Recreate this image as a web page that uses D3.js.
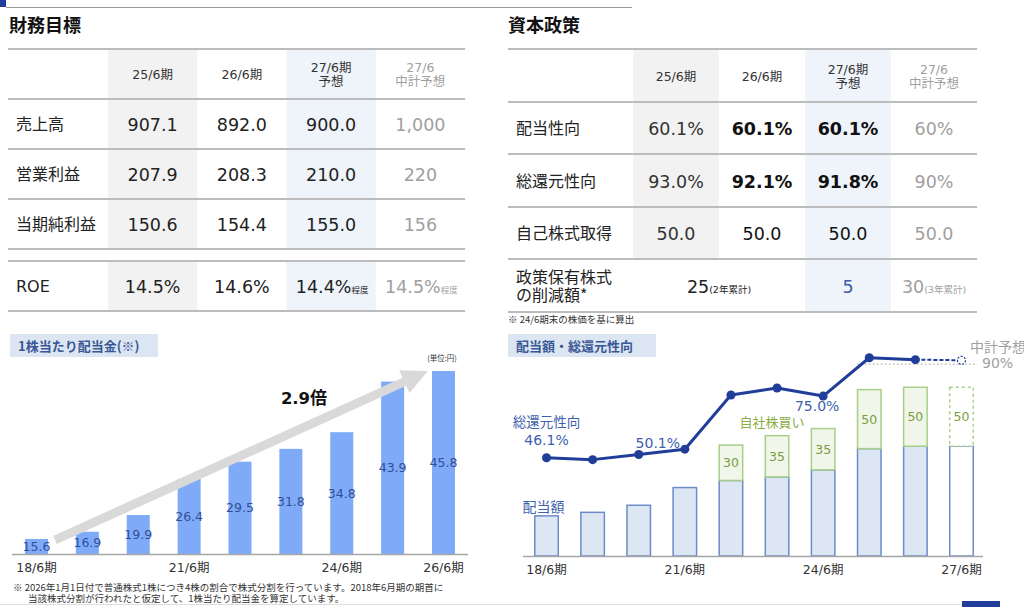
<!DOCTYPE html>
<html>
<head>
<meta charset="utf-8">
<script src="https://cdn.jsdelivr.net/npm/d3@7"></script>
<style>
  body { margin: 0; background: #fff; }
  svg { display: block; font-family: "Noto Sans CJK JP", "Noto Sans", sans-serif; }
  .num { font-family: "DejaVu Sans", "Noto Sans CJK JP", sans-serif; }
</style>
</head>
<body>
<svg id="chart" width="1024" height="607"></svg>
<script>
// ---- table data ----
const colHeads = [["25/6期"], ["26/6期"], ["27/6期", "予想"], ["27/6", "中計予想"]];

const finLabels = ["売上高", "営業利益", "当期純利益"];
const finValues = [
    ["907.1", "892.0", "900.0", "1,000"],
    ["207.9", "208.3", "210.0", "220"],
    ["150.6", "154.4", "155.0", "156"]
];
const roeValues = ["14.5%", "14.6%", "14.4%", "14.5%"];
const roeSuffix = ["", "", "程度", "程度"];

const capLabels = ["配当性向", "総還元性向", "自己株式取得"];
const capValues = [
    ["60.1%", "60.1%", "60.1%", "60%"],
    ["93.0%", "92.1%", "91.8%", "90%"],
    ["50.0", "50.0", "50.0", "50.0"]
];
const reductionLabel = ["政策保有株式", "の削減額*"];
const reductionValues = [["25", "(2年累計)"], ["5", ""], ["30", "(3年累計)"]];

// ---- dividend per share ----
const dpsPeriods = ["18/6期", "19/6期", "20/6期", "21/6期", "22/6期", "23/6期", "24/6期", "25/6期", "26/6期"];
const dpsValues = [15.6, 16.9, 19.9, 26.4, 29.5, 31.8, 34.8, 43.9, 45.8];
const dpsTicks = ["18/6期", "21/6期", "24/6期", "26/6期"];

// ---- dividends / total return ----
const retPeriods = ["18/6期", "19/6期", "20/6期", "21/6期", "22/6期", "23/6期", "24/6期", "25/6期", "26/6期", "27/6期"];
const dividendAmt = [34, 37, 43, 58, 64, 67, 73, 91, 93, 93];
const buybackAmt = [0, 0, 0, 0, 30, 35, 35, 50, 50, 50];
const totalReturn = [46.1, 45.2, 47.6, 50.1, 75.5, 78.8, 75.0, 93.0, 92.1, 91.8];
const retTicks = ["18/6期", "21/6期", "24/6期", "27/6期"];
const planTarget = 90;

const svg = d3.select("#chart");

const lineGray = "#bcbcbc";
const planGray = "#a0a0a0";
const ink = "#222";

// top strip
svg.append("rect").attr("x", 0).attr("y", 0).attr("width", 6).attr("height", 7).attr("fill", "#1f3d99");
svg.append("line").attr("x1", 6).attr("x2", 632).attr("y1", 7.5).attr("y2", 7.5)
    .attr("stroke", "#999").attr("stroke-width", 1);

// bottom strip
svg.append("line").attr("x1", 0).attr("x2", 962).attr("y1", 604.5).attr("y2", 604.5)
    .attr("stroke", "#ddd").attr("stroke-width", 1);
svg.append("rect").attr("x", 962).attr("y", 601).attr("width", 38).attr("height", 6).attr("fill", "#1f3d99");

// section titles
svg.append("text").attr("x", 9).attr("y", 32).text("財務目標")
    .attr("font-size", 18).attr("font-weight", 700).attr("fill", "#111");
svg.append("text").attr("x", 508).attr("y", 32).text("資本政策")
    .attr("font-size", 18).attr("font-weight", 700).attr("fill", "#111");

function headers(g, x, yMid) {
    colHeads.forEach((h, i) => {
        let t = g.append("text").attr("class", "num")
            .attr("x", x(i) + x.bandwidth() / 2)
            .attr("text-anchor", "middle")
            .attr("font-size", 12.5)
            .attr("fill", i === 3 ? planGray : "#333");
        h.forEach((s, j) => {
            t.append("tspan")
                .attr("x", x(i) + x.bandwidth() / 2)
                .attr("y", yMid + 4.5 + (j - (h.length - 1) / 2) * 14)
                .text(s);
        });
    });
}

function hlines(g, x0, x1, ys) {
    g.selectAll("line.row").data(ys).join("line")
        .attr("x1", x0).attr("x2", x1)
        .attr("y1", d => d).attr("y2", d => d)
        .attr("stroke", lineGray).attr("stroke-width", 2);
}

// ---- left table ----
{
    const g = svg.append("g");
    const x = d3.scaleBand().domain(d3.range(4)).range([108, 465]);
    const rows = [49, 99, 149, 199, 249];
    const roeTop = 261, roeBot = 311;

    [[0, "#f2f2f2"], [2, "#eef4fa"]].forEach(([c, fill]) => {
        g.append("rect").attr("x", x(c)).attr("y", rows[0]).attr("width", x.bandwidth())
            .attr("height", rows[4] - rows[0]).attr("fill", fill);
        g.append("rect").attr("x", x(c)).attr("y", roeTop).attr("width", x.bandwidth())
            .attr("height", roeBot - roeTop).attr("fill", fill);
    });
    hlines(g, 8, 465, rows.concat([roeTop, roeBot]));
    headers(g, x, 74);

    finLabels.forEach((lab, r) => {
        let yMid = (rows[r + 1] + rows[r + 2]) / 2;
        g.append("text").attr("x", 16).attr("y", yMid + 6).text(lab)
            .attr("font-size", 16).attr("fill", ink);
        finValues[r].forEach((v, c) => {
            g.append("text").attr("class", "num").attr("x", x(c) + x.bandwidth() / 2).attr("y", yMid + 7)
                .attr("text-anchor", "middle").attr("font-size", 17.5)
                .attr("fill", c === 3 ? planGray : ink).text(v);
        });
    });

    let yR = (roeTop + roeBot) / 2;
    g.append("text").attr("class", "num").attr("x", 16).attr("y", yR + 6).text("ROE")
        .attr("font-size", 16).attr("fill", ink);
    roeValues.forEach((v, c) => {
        let t = g.append("text").attr("class", "num")
            .attr("x", x(c) + x.bandwidth() / 2 + (roeSuffix[c] ? 1 : 0)).attr("y", yR + 7)
            .attr("text-anchor", "middle").attr("fill", c === 3 ? planGray : ink);
        t.append("tspan").attr("font-size", 17.5).text(v);
        if (roeSuffix[c]) t.append("tspan").attr("font-size", 8.5).text(roeSuffix[c]);
    });
}

// ---- right table ----
{
    const g = svg.append("g");
    const x = d3.scaleBand().domain(d3.range(4)).range([633, 977]);
    const rows = [49, 102, 154, 207, 259, 312];

    g.append("rect").attr("x", x(0)).attr("y", rows[0]).attr("width", x.bandwidth())
        .attr("height", rows[4] - rows[0]).attr("fill", "#f2f2f2");
    g.append("rect").attr("x", x(2)).attr("y", rows[0]).attr("width", x.bandwidth())
        .attr("height", rows[5] - rows[0]).attr("fill", "#eef4fa");
    hlines(g, 508, 977, rows);
    headers(g, x, 76);

    capLabels.forEach((lab, r) => {
        let yMid = (rows[r + 1] + rows[r + 2]) / 2;
        g.append("text").attr("x", 516).attr("y", yMid + 6).text(lab)
            .attr("font-size", 16).attr("fill", ink);
        capValues[r].forEach((v, c) => {
            g.append("text").attr("class", "num").attr("x", x(c) + x.bandwidth() / 2).attr("y", yMid + 7)
                .attr("text-anchor", "middle").attr("font-size", 17.5)
                .attr("font-weight", (c === 1 || c === 2) && r < 2 ? 700 : 400)
                .attr("fill", c === 3 ? planGray : (c === 0 ? "#333" : "#111")).text(v);
        });
    });

    let y5 = (rows[4] + rows[5]) / 2;
    reductionLabel.forEach((s, j) => {
        g.append("text").attr("x", 516).attr("y", y5 - 3 + j * 18).text(s)
            .attr("font-size", 16).attr("fill", ink);
    });
    const cellX = [x(1), x(2) + x.bandwidth() / 2, x(3) + x.bandwidth() / 2];
    const cellCol = [ink, "#3b5ba8", planGray];
    reductionValues.forEach((v, i) => {
        let t = g.append("text").attr("class", "num").attr("x", cellX[i]).attr("y", y5 + 7)
            .attr("text-anchor", "middle").attr("fill", cellCol[i]);
        t.append("tspan").attr("font-size", 17.5).text(v[0]);
        if (v[1]) t.append("tspan").attr("font-size", 9.5).text(v[1]);
    });

    g.append("text").attr("x", 508).attr("y", 323).attr("font-size", 9.5).attr("fill", "#333")
        .text("※  24/6期末の株価を基に算出");
}

// ---- panel label boxes ----
function panelLabel(x0, w, txt) {
    svg.append("rect").attr("x", x0).attr("y", 334).attr("width", w).attr("height", 23).attr("fill", "#dce6f2");
    svg.append("text").attr("x", x0 + 8).attr("y", 351).text(txt)
        .attr("font-size", 13).attr("font-weight", 700).attr("fill", "#3a5796");
}
panelLabel(10, 148, "1株当たり配当金(※)");
panelLabel(508, 148, "配当額・総還元性向");

// ---- dividend per share chart ----
{
    const g = svg.append("g");
    const x = d3.scaleBand().domain(dpsPeriods).range([12, 468]).paddingInner(0.548).paddingOuter(0.2555);
    const y = d3.scaleLinear().domain([12.9, 45.8]).range([554, 371]);

    g.selectAll("rect.bar").data(dpsValues).join("rect")
        .attr("x", (d, i) => x(dpsPeriods[i])).attr("width", x.bandwidth())
        .attr("y", d => y(d)).attr("height", d => y.range()[0] - y(d))
        .attr("fill", "#7faaf7");

    g.append("line").attr("x1", 12).attr("x2", 468).attr("y1", 554.5).attr("y2", 554.5)
        .attr("stroke", "#a6a6a6").attr("stroke-width", 1.5);

    // arrow
    const first = dpsPeriods[0], last = dpsPeriods[dpsPeriods.length - 1];
    const sx = x(first) + x.bandwidth() + 7, sy = y(dpsValues[0]) + 1;
    const tx = x(last) - 4, ty = y(dpsValues[dpsValues.length - 1]);
    const len = Math.hypot(tx - sx, ty - sy);
    const ux = (tx - sx) / len, uy = (ty - sy) / len;
    const nx = -uy, ny = ux;
    const hw = 4.5, hh = 12.5, hl = 26;
    const bx = tx - ux * hl, by = ty - uy * hl;
    const pts = [
        [sx + nx * hw, sy + ny * hw], [bx + nx * hw, by + ny * hw], [bx + nx * hh, by + ny * hh],
        [tx, ty], [bx - nx * hh, by - ny * hh], [bx - nx * hw, by - ny * hw], [sx - nx * hw, sy - ny * hw]
    ];
    g.append("polygon").attr("points", pts.map(p => p.join(",")).join(" ")).attr("fill", "#d9d9d9");

    g.selectAll("text.val").data(dpsValues).join("text").attr("class", "num")
        .attr("x", (d, i) => x(dpsPeriods[i]) + x.bandwidth() / 2)
        .attr("y", d => (y(d) + y.range()[0]) / 2 + 4.5)
        .attr("text-anchor", "middle").attr("font-size", 12.5).attr("fill", "#2f4f9a")
        .text(d => d.toFixed(1));

    g.selectAll("text.tick").data(dpsTicks).join("text").attr("class", "num")
        .attr("x", d => x(d) + x.bandwidth() / 2).attr("y", 572)
        .attr("text-anchor", "middle").attr("font-size", 12.5).attr("fill", "#333").text(d => d);

    let t = g.append("text").attr("x", 304).attr("y", 404).attr("text-anchor", "middle")
        .attr("font-weight", 700).attr("fill", "#111");
    t.append("tspan").attr("class", "num").attr("font-size", 16.5).text("2.9");
    t.append("tspan").attr("font-size", 17).text("倍");
    g.append("text").attr("x", 442).attr("y", 361).attr("text-anchor", "middle")
        .attr("font-size", 7.5).attr("fill", "#333").text("(単位:円)");

    g.append("text").attr("x", 13).attr("y", 591).attr("font-size", 9.5).attr("fill", "#333")
        .text("※  2026年1月1日付で普通株式1株につき4株の割合で株式分割を行っています。2018年6月期の期首に");
    g.append("text").attr("x", 28).attr("y", 602).attr("font-size", 9.5).attr("fill", "#333")
        .text("当該株式分割が行われたと仮定して、1株当たり配当金を算定しています。");
}

// ---- dividends & total return chart ----
{
    const g = svg.append("g");
    const x = d3.scaleBand().domain(retPeriods).range([523, 985]).paddingInner(0.458).paddingOuter(0.239);
    const y = d3.scaleLinear().domain([0, 150]).range([556, 379]);
    const yPct = d3.scaleLinear().domain([0, 100]).range([556, 342.8]);
    const cx = p => x(p) + x.bandwidth() / 2;
    const lastIdx = retPeriods.length - 1;

    const bars = retPeriods.map((p, i) => ({ p, i, div: dividendAmt[i], buy: buybackAmt[i] }));

    g.selectAll("rect.div").data(bars).join("rect")
        .attr("x", d => x(d.p) + 0.75).attr("width", x.bandwidth() - 1.5)
        .attr("y", d => y(d.div)).attr("height", d => y(0) - y(d.div))
        .attr("fill", d => d.i === lastIdx ? "#fff" : "#dde7f3")
        .attr("stroke", "#6b8cc7").attr("stroke-width", 1.5);

    const buys = bars.filter(d => d.buy > 0);
    g.selectAll("rect.buy").data(buys).join("rect")
        .attr("x", d => x(d.p) + 0.75).attr("width", x.bandwidth() - 1.5)
        .attr("y", d => y(d.div + d.buy)).attr("height", d => y(d.div) - y(d.div + d.buy))
        .attr("fill", d => d.i === lastIdx ? "#fff" : "#f0f6ea")
        .attr("stroke", "#a8cf8a").attr("stroke-width", 1.5)
        .attr("stroke-dasharray", d => d.i === lastIdx ? "3,3" : null);

    g.selectAll("text.buy").data(buys).join("text").attr("class", "num")
        .attr("x", d => cx(d.p)).attr("y", d => y(d.div + d.buy / 2) + 4.5)
        .attr("text-anchor", "middle").attr("font-size", 12.5).attr("fill", "#7a9d3c")
        .text(d => d.buy);

    g.append("line").attr("x1", 523).attr("x2", 983).attr("y1", 556.5).attr("y2", 556.5)
        .attr("stroke", "#a6a6a6").attr("stroke-width", 1.5);

    // 中計 target
    g.append("line").attr("x1", x(retPeriods[7])).attr("x2", 977)
        .attr("y1", yPct(planTarget)).attr("y2", yPct(planTarget))
        .attr("stroke", "#b0b0b0").attr("stroke-width", 1).attr("stroke-dasharray", "2,2");

    const pts = totalReturn.map((v, i) => [cx(retPeriods[i]), yPct(v)]);
    const line = d3.line();
    g.append("path").attr("d", line(pts.slice(0, lastIdx))).attr("fill", "none")
        .attr("stroke", "#1f3d99").attr("stroke-width", 3).attr("stroke-linejoin", "round");
    g.append("path").attr("d", line(pts.slice(lastIdx - 1))).attr("fill", "none")
        .attr("stroke", "#1f3d99").attr("stroke-width", 2).attr("stroke-dasharray", "4,2");
    g.selectAll("circle.pt").data(pts.slice(0, lastIdx)).join("circle")
        .attr("cx", d => d[0]).attr("cy", d => d[1]).attr("r", 4.5).attr("fill", "#1f3d99");
    g.append("circle").attr("cx", pts[lastIdx][0]).attr("cy", pts[lastIdx][1]).attr("r", 4)
        .attr("fill", "#fff").attr("stroke", "#1f3d99").attr("stroke-width", 1.2).attr("stroke-dasharray", "2,1.5");

    // annotations
    const blue = "#3d5fae";
    g.append("text").attr("x", cx(retPeriods[0])).attr("y", 427).attr("text-anchor", "middle")
        .attr("font-size", 13.5).attr("fill", blue).text("総還元性向");
    g.append("text").attr("class", "num").attr("x", cx(retPeriods[0])).attr("y", 445).attr("text-anchor", "middle")
        .attr("font-size", 14).attr("fill", blue).text(totalReturn[0].toFixed(1) + "%");
    g.append("text").attr("class", "num").attr("x", cx(retPeriods[3]) - 27).attr("y", 448).attr("text-anchor", "middle")
        .attr("font-size", 14).attr("fill", blue).text(totalReturn[3].toFixed(1) + "%");
    g.append("text").attr("class", "num").attr("x", cx(retPeriods[6]) - 6).attr("y", 411).attr("text-anchor", "middle")
        .attr("font-size", 14).attr("fill", blue).text(totalReturn[6].toFixed(1) + "%");
    g.append("text").attr("x", cx(retPeriods[0]) - 3).attr("y", 512).attr("text-anchor", "middle")
        .attr("font-size", 14).attr("fill", blue).text("配当額");
    g.append("text").attr("x", 772).attr("y", 427).attr("text-anchor", "middle")
        .attr("font-size", 13).attr("fill", "#8cad45").text("自社株買い");
    g.append("text").attr("x", 970).attr("y", 352)
        .attr("font-size", 14).attr("fill", planGray).text("中計予想");
    g.append("text").attr("class", "num").attr("x", 982).attr("y", 368)
        .attr("font-size", 14).attr("fill", planGray).text(planTarget + "%");

    g.selectAll("text.tick").data(retTicks).join("text").attr("class", "num")
        .attr("x", d => cx(d)).attr("y", 574)
        .attr("text-anchor", "middle").attr("font-size", 12.5).attr("fill", "#333").text(d => d);
}
</script>
</body>
</html>
